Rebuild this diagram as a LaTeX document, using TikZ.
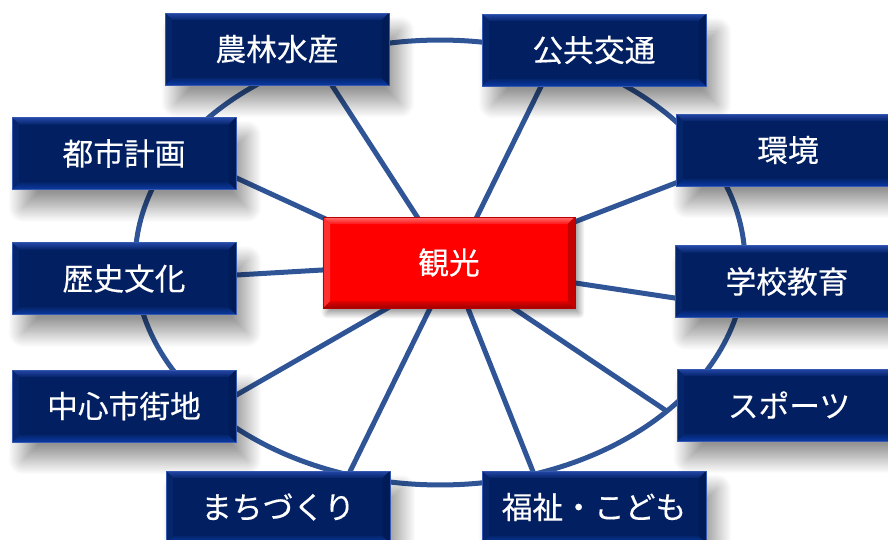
\documentclass[tikz,border=0pt]{standalone}
\usepackage{fontspec}
\setmainfont{Noto Sans CJK JP}[FakeBold=0.3]
\usetikzlibrary{calc,shadows.blur}
\pgfdeclarelayer{bg}
\pgfsetlayers{bg,main}
\definecolor{navy}{HTML}{021F62}
\definecolor{navyedge}{HTML}{3558B0}
\definecolor{navytop}{HTML}{2447A8}
\definecolor{navytopin}{HTML}{05246A}
\definecolor{navybot}{HTML}{0B39A4}
\definecolor{navybotin}{HTML}{04266E}
\definecolor{navyleft}{HTML}{06266C}
\definecolor{navyright}{HTML}{001B55}
\definecolor{redmain}{HTML}{FF0000}
\definecolor{redtop}{HTML}{FF7070}
\definecolor{redtopin}{HTML}{FF1414}
\definecolor{redbot}{HTML}{A00000}
\definecolor{redbotin}{HTML}{E00000}
\definecolor{redleft}{HTML}{FF3030}
\definecolor{redright}{HTML}{C40000}
\definecolor{redge}{HTML}{B80000}
\definecolor{ringblue}{HTML}{2F5597}
\tikzset{
  bevel/.style n args={6}{path picture={
    \coordinate (bvnw) at (path picture bounding box.north west);
    \coordinate (bvne) at (path picture bounding box.north east);
    \coordinate (bvsw) at (path picture bounding box.south west);
    \coordinate (bvse) at (path picture bounding box.south east);
    \shade[top color=#1,bottom color=#2] (bvnw) -- (bvne) -- ([shift={(-0.14cm,-0.14cm)}]bvne) -- ([shift={(0.14cm,-0.14cm)}]bvnw) -- cycle;
    \shade[top color=#3,bottom color=#4] (bvsw) -- (bvse) -- ([shift={(-0.14cm,0.14cm)}]bvse) -- ([shift={(0.14cm,0.14cm)}]bvsw) -- cycle;
    \fill[#5] (bvnw) -- ([shift={(0.14cm,-0.14cm)}]bvnw) -- ([shift={(0.14cm,0.14cm)}]bvsw) -- (bvsw) -- cycle;
    \fill[#6] (bvne) -- ([shift={(-0.14cm,-0.14cm)}]bvne) -- ([shift={(-0.14cm,0.14cm)}]bvse) -- (bvse) -- cycle;
  }},
  softshadow/.style={blur shadow={shadow xshift=0.22cm, shadow yshift=-0.36cm, shadow blur radius=0.3cm, shadow blur steps=24, shadow opacity=42}},
  navybox/.style={draw=navyedge, line width=0.5pt, fill=navy, minimum width=4.48cm, minimum height=1.44cm,
    inner sep=0pt, text=white, font=\fontsize{17.5}{20}\selectfont, softshadow,
    bevel={navytop}{navytopin}{navybotin}{navybot}{navyleft}{navyright}},
  redbox/.style={draw=redge, line width=0.5pt, fill=redmain, minimum width=5.04cm, minimum height=1.82cm,
    inner sep=0pt, text=white, font=\fontsize{17.5}{20}\selectfont,
    blur shadow={shadow xshift=0.08cm, shadow yshift=-0.1cm, shadow blur radius=0.12cm, shadow blur steps=12, shadow opacity=45},
    bevel={redtop}{redtopin}{redbotin}{redbot}{redleft}{redright}},
  ring/.style={draw=ringblue, line width=0.1cm},
  spoke/.style={draw=ringblue, line width=0.1cm},
}
\begin{document}
\begin{tikzpicture}[x=0.02cm, y=-0.02cm]
\useasboundingbox (0,0) rectangle (888,540);
\node[redbox] (kanko) at (449,262.5) {観光};
\node[navybox] (nou) at (277,49) {農林水産};
\node[navybox] (kou) at (594,50) {公共交通};
\node[navybox] (toshi) at (124,153.5) {都市計画};
\node[navybox] (rekishi) at (124,278.5) {歴史文化};
\node[navybox] (chushin) at (124,406) {中心市街地};
\node[navybox] (machi) at (278,507) {まちづくり};
\node[navybox] (fukushi) at (594,507) {福祉・こども};
\node[navybox] (kankyo) at (788,150) {環境};
\node[navybox] (gakko) at (787,281.5) {学校教育};
\node[navybox] (sports) at (789,405) {スポーツ};
\coordinate (sportsend) at ($(sports.west)+(-10,6)$);
\begin{pgfonlayer}{bg}
\draw[ring] (440,262.5) ellipse [x radius=6.1cm, y radius=4.45cm];
\draw[spoke] ($(nou.south)+(51.8,-5)$) -- ($(kanko.north)+(-28.8,5)$);
\draw[spoke] ($(kou.south)+(-50.8,-4.5)$) -- ($(kanko.north)+(25.8,4.5)$);
\draw[spoke] ($(toshi.east)+(-4.5,22.4)$) -- ($(kanko.north west)+(13,7)$);
\draw[spoke] ($(kankyo.west)+(4.7,31.2)$) -- ($(kanko.north east)+(-10,8.9)$);
\draw[spoke] ($(rekishi.east)+(-5,-3.2)$) -- ($(kanko.west)+(10,6.9)$);
\draw[spoke] ($(gakko.west)+(6,17.4)$) -- ($(kanko.east)+(-10,19)$);
\draw[spoke] ($(chushin.east)+(-5.3,-8)$) -- ($(kanko.south)+(-57.7,-2.5)$);
\draw[spoke] ($(machi.north)+(69.8,5.5)$) -- ($(kanko.south)+(-16.8,-4.5)$);
\draw[spoke] ($(fukushi.north)+(-59.2,5.6)$) -- ($(kanko.south)+(17.2,-4.6)$);
\draw[spoke] (sportsend) -- ($(kanko.south)+(59.8,-3.3)$);
\end{pgfonlayer}
\end{tikzpicture}
\end{document}
